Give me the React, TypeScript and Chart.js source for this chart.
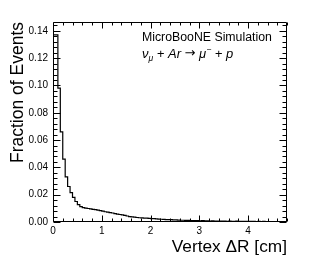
import React, { useEffect, useRef } from "react";
import { Chart, registerables } from "chart.js";

Chart.register(...registerables);

// ---- data ----
const binWidth = 0.05; // cm
const binValues = [
  0.139, 0.137, 0.137, 0.098, 0.066, 0.046, 0.033, 0.026, 0.0215, 0.018,
  0.015, 0.0128, 0.0112, 0.0105, 0.0102, 0.0099, 0.0096, 0.0092, 0.009, 0.0087,
  0.0083, 0.0079, 0.0075, 0.0072, 0.0068, 0.0066, 0.0062, 0.0058, 0.0055, 0.0052,
  0.0048, 0.0044, 0.004, 0.0038, 0.0035, 0.0033, 0.0031, 0.003, 0.0029, 0.0028,
  0.0027, 0.0025, 0.0024, 0.0023, 0.0021, 0.002, 0.0019, 0.0018, 0.0017, 0.0017,
  0.0016, 0.0015, 0.0014, 0.0013, 0.0013, 0.0012, 0.0012, 0.0011, 0.0011, 0.001,
  0.001, 0.0009, 0.001, 0.0008, 0.0008, 0.0007, 0.0008, 0.0007, 0.0006, 0.0007,
  0.0006, 0.0006, 0.0005, 0.0006, 0.0005, 0.0005, 0.0006, 0.0004, 0.0005, 0.0004,
  0.0004, 0.0005, 0.0004, 0.0004, 0.0003, 0.0004, 0.0003, 0.0004, 0.0003, 0.0003,
  0.0003, 0.0003, 0.0002, 0.0003, 0.0002, 0.0002,
];
const xMin = 0;
const xMax = 4.8;
const yMin = 0;
const yMax = 0.1465;
const xMajorTicks = [0, 1, 2, 3, 4];
const yMajorTicks = [0, 0.02, 0.04, 0.06, 0.08, 0.1, 0.12, 0.14];
const xMinorStep = 0.2;
const yMinorStep = 0.004;
const xTitle = "Vertex \u0394R [cm]";
const yTitle = "Fraction of Events";
const labelLine1 = "MicroBooNE Simulation";

const FONT = '"Liberation Sans", Arial, Helvetica, sans-serif';

const framePlugin = {
  id: "rootFrame",
  afterDraw(chart: any) {
    const { ctx, chartArea: a, scales } = chart;
    const x = scales.x;
    const y = scales.y;
    const L = Math.round(a.left) + 0.5;
    const R = Math.round(a.right) - 0.5;
    const T = Math.round(a.top) + 0.5;
    const B = Math.round(a.bottom) - 0.5;
    ctx.save();
    ctx.strokeStyle = "#000";
    ctx.lineWidth = 1;
    ctx.beginPath();
    ctx.rect(L, T, R - L, B - T);
    // x ticks (bottom & top)
    for (let i = 0; xMin + i * xMinorStep <= xMax + 1e-9; i++) {
      const v = xMin + i * xMinorStep;
      const major = xMajorTicks.some((m) => Math.abs(m - v) < 1e-6);
      const len = major ? 6 : 3;
      const px = Math.round(x.getPixelForValue(v)) + 0.5;
      ctx.moveTo(px, B);
      ctx.lineTo(px, B - len);
      ctx.moveTo(px, T);
      ctx.lineTo(px, T + len);
    }
    // y ticks (left & right)
    for (let i = 0; yMin + i * yMinorStep <= yMax + 1e-9; i++) {
      const v = yMin + i * yMinorStep;
      const major = yMajorTicks.some((m) => Math.abs(m - v) < 1e-6);
      const len = major ? 7 : 4;
      const py = Math.round(y.getPixelForValue(v)) + 0.5;
      ctx.moveTo(L, py);
      ctx.lineTo(L + len, py);
      ctx.moveTo(R, py);
      ctx.lineTo(R - len, py);
    }
    ctx.stroke();

    // annotation text
    ctx.fillStyle = "#000";
    ctx.textBaseline = "alphabetic";
    ctx.textAlign = "left";
    ctx.font = `12.3px ${FONT}`;
    ctx.fillText(labelLine1, 142, 41);

    let cx = 142;
    const by = 58;
    const main = `italic 13px ${FONT}`;
    const small = `italic 8.5px ${FONT}`;
    const arrow = `13px "DejaVu Sans", ${FONT}`;
    const part = (t: string, f: string, dy: number) => {
      ctx.font = f;
      ctx.fillText(t, cx, by + dy);
      cx += ctx.measureText(t).width;
    };
    part("\u03BD", main, 0);
    part("\u03BC", small, 3);
    part(" + Ar ", main, 0);
    part("\u2192", arrow, -1);
    part(" \u03BC", main, 0);
    part("\u2212", small, -6);
    part(" + p", main, 0);
    ctx.restore();
  },
};

export default function App() {
  const ref = useRef<HTMLCanvasElement | null>(null);
  useEffect(() => {
    if (!ref.current) return;
    const points: { x: number; y: number }[] = [{ x: xMin, y: 0 }];
    binValues.forEach((v, i) => points.push({ x: xMin + i * binWidth, y: v }));
    points.push({ x: xMin + binValues.length * binWidth, y: binValues[binValues.length - 1] });

    const chart = new Chart(ref.current, {
      type: "line",
      data: {
        datasets: [
          {
            data: points,
            stepped: "after",
            borderColor: "#000",
            borderWidth: 1.2,
            pointRadius: 0,
            fill: false,
          },
        ],
      },
      options: {
        animation: false,
        responsive: false,
        devicePixelRatio: 1,
        layout: { padding: { left: 0, top: 22, right: 26, bottom: 0 } },
        plugins: { legend: { display: false }, tooltip: { enabled: false } },
        scales: {
          x: {
            type: "linear",
            min: xMin,
            max: xMax,
            grid: { display: false, drawTicks: false },
            border: { display: false },
            ticks: {
              stepSize: 1,
              padding: 3,
              color: "#000",
              font: { size: 10, family: FONT },
              maxRotation: 0,
              callback: (v: any) => String(v),
            },
            afterBuildTicks: (s: any) => {
              s.ticks = xMajorTicks.map((v) => ({ value: v }));
            },
            afterFit: (s: any) => {
              s.height = 50;
            },
            title: {
              display: true,
              text: xTitle,
              align: "end",
              color: "#000",
              font: { size: 17.3, family: FONT },
              padding: { top: 0, bottom: 14 },
            },
          },
          y: {
            type: "linear",
            min: yMin,
            max: yMax,
            grid: { display: false, drawTicks: false },
            border: { display: false },
            ticks: {
              padding: 5,
              color: "#000",
              font: { size: 10, family: FONT },
              callback: (v: any) => Number(v).toFixed(2),
            },
            afterBuildTicks: (s: any) => {
              s.ticks = yMajorTicks.map((v) => ({ value: v }));
            },
            afterFit: (s: any) => {
              s.width = 53;
            },
            title: {
              display: true,
              text: yTitle,
              align: "end",
              color: "#000",
              font: { size: 17.5, family: FONT },
              padding: { top: 8, bottom: 0 },
            },
          },
        },
      },
      plugins: [framePlugin],
    });
    return () => chart.destroy();
  }, []);

  return (
    <div style={{ position: "absolute", left: 0, top: 0, width: 313, height: 272, background: "#fff" }}>
      <canvas ref={ref} width={313} height={272} style={{ width: 313, height: 272, display: "block" }} />
    </div>
  );
}
